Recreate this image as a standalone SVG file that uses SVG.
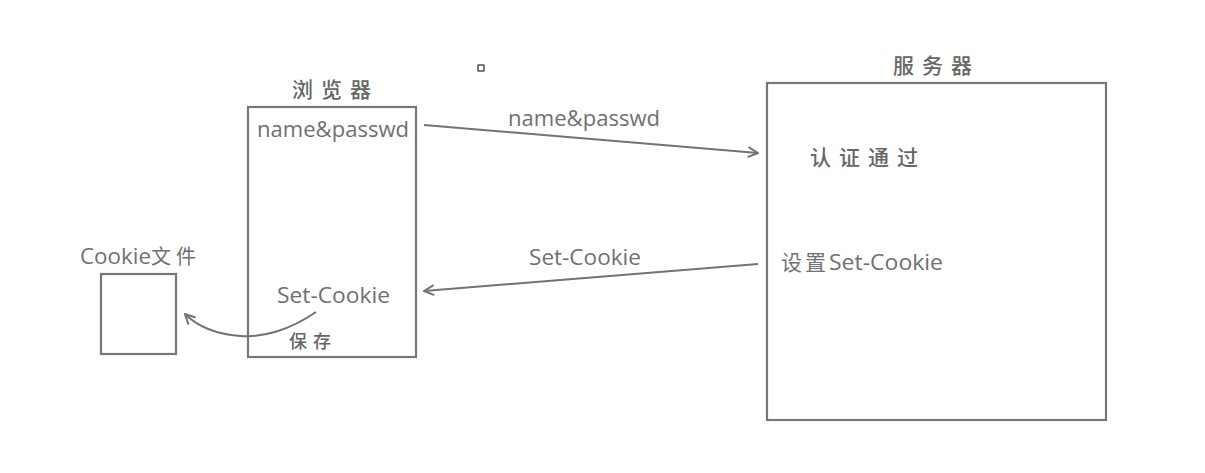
<svg xmlns="http://www.w3.org/2000/svg" width="1205" height="473" viewBox="0 0 1205 473">
<defs>
<style>
.box{fill:none;stroke:#777;stroke-width:2.2}
.ln{fill:none;stroke:#737373;stroke-width:2}
.t{font-family:"Open Sans","Noto Sans","Noto Sans CJK SC",sans-serif;font-size:21px;fill:#707070}
.c{font-family:"Noto Sans CJK SC",sans-serif;font-size:21px;font-weight:500;fill:#666;letter-spacing:8px}
</style>
<marker id="ah" viewBox="0 0 12 12" refX="11" refY="6" markerWidth="12" markerHeight="12" markerUnits="userSpaceOnUse" orient="auto">
<path d="M1,1 L11,6 L1,11" fill="none" stroke="#737373" stroke-width="2"/>
</marker>
</defs>
<rect width="1205" height="473" fill="#fff"/>
<rect x="478" y="65" width="6" height="6" fill="none" stroke="#000" stroke-width="1"/>
<g id="browser">
<rect class="box" x="248" y="107" width="168" height="250"/>
<text class="c" x="292" y="97">浏览器</text>
<text class="t" x="257" y="137" textLength="152" lengthAdjust="spacingAndGlyphs">name&amp;passwd</text>
<text class="t" x="277" y="303" textLength="113" lengthAdjust="spacingAndGlyphs">Set-Cookie</text>
<text class="c" x="289" y="348" style="font-size:18px;letter-spacing:6px">保存</text>
</g>
<g id="server">
<rect class="box" x="767" y="83" width="339" height="337"/>
<text class="c" x="893" y="73">服务器</text>
<text class="c" x="810" y="165">认证通过</text>
<text class="t" x="781" y="270"><tspan font-family="Noto Sans CJK SC" font-size="21" letter-spacing="3">设置</tspan><tspan textLength="114" lengthAdjust="spacingAndGlyphs">Set-Cookie</tspan></text>
</g>
<g id="cookiefile">
<rect class="box" x="101" y="274" width="75" height="80"/>
<text class="t" x="80" y="264"><tspan textLength="71" lengthAdjust="spacingAndGlyphs">Cookie</tspan><tspan font-family="Noto Sans CJK SC" font-size="20" letter-spacing="5">文件</tspan></text>
</g>
<g id="connectors">
<path class="ln" d="M424,125 L758,153" marker-end="url(#ah)"/>
<text class="t" x="508" y="126" textLength="152" lengthAdjust="spacingAndGlyphs">name&amp;passwd</text>
<path class="ln" d="M758,264 L424,291" marker-end="url(#ah)"/>
<text class="t" x="529" y="265" textLength="112" lengthAdjust="spacingAndGlyphs">Set-Cookie</text>
<path class="ln" d="M316,312 C290,330 262,338 240,336 C215,334 197,326 185,314" marker-end="url(#ah)"/>
</g>
</svg>
